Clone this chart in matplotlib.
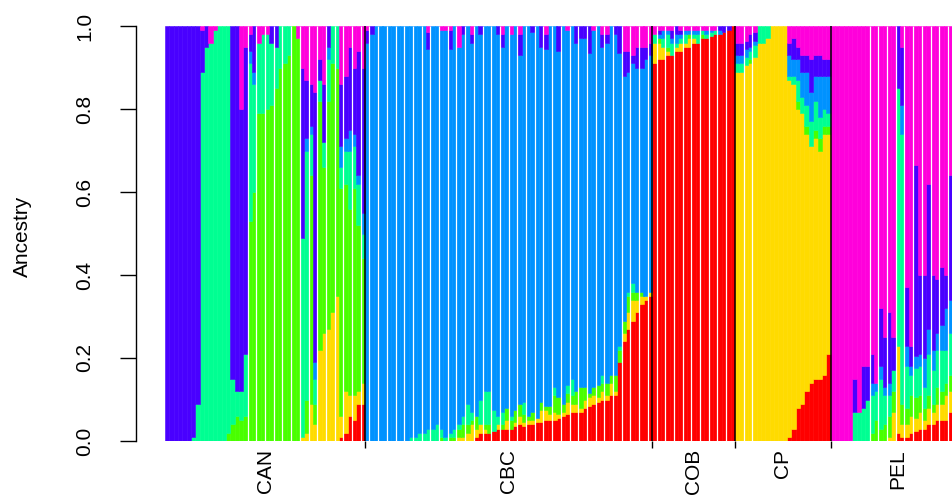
import numpy as np
import matplotlib.pyplot as plt
from matplotlib.transforms import blended_transform_factory

plt.rcParams["font.family"] = ["Liberation Sans", "DejaVu Sans"]

# cluster colours, bottom of the stack first (R rainbow(7))
colors = ["#FF0000", "#FFDB00", "#49FF00", "#00FF92", "#0092FF", "#4900FF", "#FF00DB"]
groups = ["CAN", "CBC", "COB", "CP", "PEL"]

# ancestry proportions per individual: [K1 .. K7]
can_q = [
    [0, 0, 0, 0, 0, 1.0, 0],
    [0, 0, 0, 0, 0, 1.0, 0],
    [0, 0, 0, 0, 0, 1.0, 0],
    [0, 0, 0, 0, 0, 1.0, 0],
    [0, 0, 0, 0, 0, 1.0, 0],
    [0, 0, 0, 0, 0, 1.0, 0],
    [0, 0, 0, 0.01, 0, 0.99, 0],
    [0, 0, 0, 0.09, 0, 0.91, 0],
    [0, 0, 0, 0.89, 0, 0.10, 0.01],
    [0, 0, 0, 0.95, 0, 0.05, 0],
    [0, 0, 0, 0.96, 0, 0, 0.04],
    [0, 0, 0, 0.99, 0, 0, 0.01],
    [0, 0, 0, 1.0, 0, 0, 0],
    [0, 0, 0, 1.0, 0, 0, 0],
    [0, 0, 0.02, 0.98, 0, 0, 0],
    [0, 0, 0.04, 0.11, 0, 0.85, 0],
    [0, 0, 0.06, 0.06, 0, 0.88, 0],
    [0, 0, 0.05, 0.07, 0, 0.68, 0.20],
    [0, 0, 0.06, 0.15, 0, 0.74, 0.05],
    [0, 0, 0.53, 0.38, 0.03, 0.04, 0.02],
    [0, 0, 0.60, 0.26, 0.03, 0.11, 0],
    [0, 0, 0.79, 0.17, 0, 0, 0.04],
    [0, 0, 0.79, 0.19, 0, 0, 0.02],
    [0, 0, 0.80, 0.18, 0, 0, 0.02],
    [0, 0, 0.81, 0.15, 0, 0.04, 0],
    [0, 0, 0.85, 0.10, 0, 0.05, 0],
    [0, 0, 0.90, 0.10, 0, 0, 0],
    [0, 0, 0.91, 0.09, 0, 0, 0],
    [0, 0, 0.93, 0.07, 0, 0, 0],
    [0, 0, 1.0, 0, 0, 0, 0],
    [0, 0, 0.97, 0, 0, 0, 0.03],
    [0, 0.01, 0, 0.48, 0, 0.41, 0.10],
    [0, 0.02, 0.08, 0.60, 0.03, 0.14, 0.13],
    [0, 0.09, 0.55, 0.10, 0.02, 0.10, 0.14],
    [0, 0.04, 0.05, 0.06, 0.04, 0.65, 0.16],
    [0, 0.22, 0.60, 0.05, 0, 0.05, 0.08],
    [0, 0.26, 0.40, 0.06, 0, 0.14, 0.14],
    [0, 0.27, 0.55, 0.10, 0.03, 0.05, 0],
    [0, 0.31, 0.60, 0.09, 0, 0, 0],
    [0, 0.35, 0.55, 0.10, 0, 0, 0],
    [0.01, 0.05, 0.55, 0.05, 0.05, 0.15, 0.14],
    [0.02, 0.10, 0.50, 0.08, 0.03, 0.15, 0.12],
    [0.06, 0.05, 0.45, 0.14, 0.05, 0.20, 0.05],
    [0.05, 0.06, 0.50, 0.10, 0.03, 0.16, 0.10],
    [0.09, 0.03, 0.40, 0.10, 0.02, 0.30, 0.06],
    [0.09, 0.05, 0.30, 0.06, 0.05, 0.35, 0.10],
]

cbc_q = [
    [0, 0, 0, 0, 0.96, 0.03, 0.01],
    [0, 0, 0, 0, 0.98, 0.02, 0],
    [0, 0, 0, 0, 1.0, 0, 0],
    [0, 0, 0, 0, 1.0, 0, 0],
    [0, 0, 0, 0, 1.0, 0, 0],
    [0, 0, 0, 0, 1.0, 0, 0],
    [0, 0, 0, 0, 1.0, 0, 0],
    [0, 0, 0, 0, 1.0, 0, 0],
    [0, 0, 0, 0, 1.0, 0, 0],
    [0, 0, 0, 0, 1.0, 0, 0],
    [0, 0, 0, 0.01, 0.99, 0, 0],
    [0, 0, 0, 0.01, 0.99, 0, 0],
    [0, 0, 0, 0.02, 0.98, 0, 0],
    [0, 0, 0, 0.02, 0.98, 0, 0],
    [0, 0, 0, 0.03, 0.915, 0.04, 0.015],
    [0, 0, 0, 0.03, 0.97, 0, 0],
    [0, 0, 0, 0.04, 0.96, 0, 0],
    [0, 0, 0.01, 0.02, 0.96, 0, 0.01],
    [0, 0, 0, 0.01, 0.98, 0, 0.01],
    [0, 0, 0.01, 0.01, 0.925, 0.045, 0.01],
    [0, 0, 0.01, 0.02, 0.97, 0, 0],
    [0, 0.01, 0.02, 0.01, 0.91, 0, 0.05],
    [0, 0.01, 0.03, 0.02, 0.92, 0.02, 0],
    [0, 0.02, 0.02, 0.05, 0.91, 0, 0],
    [0, 0.04, 0.01, 0.02, 0.89, 0.02, 0.02],
    [0.01, 0.02, 0.03, 0, 0.94, 0, 0],
    [0.02, 0.02, 0, 0.06, 0.88, 0.02, 0],
    [0.02, 0.01, 0.01, 0.08, 0.88, 0, 0],
    [0.02, 0, 0.02, 0.08, 0.88, 0, 0],
    [0.025, 0, 0, 0.05, 0.925, 0, 0],
    [0.03, 0.01, 0, 0.02, 0.92, 0.02, 0],
    [0.03, 0, 0.01, 0.03, 0.88, 0.03, 0.02],
    [0.03, 0.02, 0.03, 0, 0.92, 0, 0],
    [0.03, 0, 0.02, 0.01, 0.92, 0, 0.02],
    [0.035, 0.01, 0.03, 0, 0.925, 0, 0],
    [0.04, 0.02, 0.03, 0, 0.84, 0.05, 0.02],
    [0.035, 0.01, 0.02, 0.03, 0.905, 0, 0],
    [0.04, 0.01, 0.01, 0, 0.94, 0, 0],
    [0.04, 0.01, 0.02, 0, 0.915, 0.015, 0],
    [0.045, 0.01, 0, 0, 0.945, 0, 0],
    [0.045, 0.03, 0.02, 0, 0.855, 0.05, 0],
    [0.05, 0.025, 0.01, 0, 0.86, 0.035, 0.02],
    [0.05, 0.015, 0.02, 0, 0.915, 0, 0],
    [0.05, 0.02, 0.04, 0.02, 0.87, 0, 0],
    [0.055, 0.01, 0.04, 0, 0.835, 0.06, 0],
    [0.06, 0.01, 0.02, 0, 0.91, 0, 0],
    [0.065, 0.03, 0.02, 0.02, 0.855, 0, 0.01],
    [0.07, 0.02, 0.02, 0.04, 0.85, 0, 0],
    [0.07, 0.02, 0.03, 0, 0.84, 0.04, 0],
    [0.07, 0.01, 0.05, 0, 0.84, 0.03, 0],
    [0.08, 0.02, 0.03, 0, 0.84, 0.03, 0],
    [0.085, 0.02, 0.01, 0, 0.82, 0.065, 0],
    [0.09, 0.02, 0.02, 0, 0.86, 0, 0.01],
    [0.095, 0.01, 0.03, 0, 0.865, 0, 0],
    [0.10, 0.02, 0.02, 0.02, 0.79, 0.03, 0.02],
    [0.10, 0.01, 0.03, 0, 0.82, 0.02, 0.02],
    [0.11, 0.03, 0.02, 0, 0.84, 0, 0],
    [0.11, 0.01, 0.04, 0, 0.82, 0.02, 0],
    [0.19, 0, 0.03, 0.01, 0.705, 0.065, 0],
    [0.24, 0.02, 0.03, 0, 0.59, 0.06, 0.06],
    [0.27, 0.04, 0.04, 0.01, 0.53, 0.05, 0.06],
    [0.29, 0.05, 0.02, 0.02, 0.53, 0.02, 0.07],
    [0.31, 0.03, 0.02, 0, 0.54, 0.05, 0.05],
    [0.33, 0.02, 0.01, 0, 0.54, 0.05, 0.05],
    [0.34, 0.01, 0, 0, 0.57, 0.03, 0.05],
    [0.35, 0.01, 0, 0, 0.57, 0.03, 0.04],
]

cob_q = [
    [0.91, 0.05, 0, 0.02, 0, 0, 0.02],
    [0.92, 0.04, 0.01, 0, 0.01, 0.01, 0.01],
    [0.92, 0.03, 0, 0.02, 0.02, 0, 0.01],
    [0.93, 0.01, 0.01, 0.03, 0.01, 0, 0.01],
    [0.93, 0, 0, 0.03, 0.01, 0.02, 0.01],
    [0.94, 0.01, 0, 0.01, 0.02, 0.02, 0],
    [0.94, 0.02, 0, 0.01, 0.01, 0.01, 0.01],
    [0.95, 0.01, 0, 0.02, 0.01, 0, 0.01],
    [0.95, 0.02, 0.01, 0, 0.01, 0, 0.01],
    [0.96, 0.01, 0, 0.01, 0.01, 0, 0.01],
    [0.96, 0, 0, 0.02, 0.01, 0, 0.01],
    [0.97, 0, 0.01, 0.01, 0, 0, 0.01],
    [0.97, 0, 0, 0.01, 0.01, 0, 0.01],
    [0.975, 0, 0, 0.01, 0.005, 0, 0.01],
    [0.98, 0, 0, 0.01, 0, 0, 0.01],
    [0.98, 0, 0, 0, 0.01, 0.01, 0],
    [0.985, 0, 0, 0, 0, 0.015, 0],
    [0.99, 0, 0, 0, 0, 0.01, 0],
    [1.0, 0, 0, 0, 0, 0, 0],
]

cp_q = [
    [0, 0.89, 0, 0.02, 0.02, 0.03, 0.04],
    [0, 0.89, 0, 0.02, 0.02, 0.03, 0.04],
    [0, 0.905, 0, 0.02, 0.02, 0.02, 0.035],
    [0, 0.91, 0.01, 0.02, 0.01, 0.03, 0.02],
    [0, 0.925, 0, 0.03, 0.01, 0.02, 0.015],
    [0, 0.96, 0, 0.04, 0, 0, 0],
    [0, 0.96, 0, 0.04, 0, 0, 0],
    [0, 0.97, 0, 0.03, 0, 0, 0],
    [0, 1.0, 0, 0, 0, 0, 0],
    [0, 1.0, 0, 0, 0, 0, 0],
    [0, 1.0, 0, 0, 0, 0, 0],
    [0, 1.0, 0, 0, 0, 0, 0],
    [0.01, 0.86, 0, 0.01, 0.05, 0.03, 0.04],
    [0.03, 0.83, 0, 0.02, 0.04, 0.05, 0.03],
    [0.08, 0.72, 0.02, 0.05, 0.05, 0.03, 0.05],
    [0.09, 0.70, 0, 0.04, 0.06, 0.04, 0.07],
    [0.12, 0.62, 0.02, 0.05, 0.08, 0.04, 0.07],
    [0.14, 0.57, 0, 0.06, 0.07, 0.08, 0.08],
    [0.15, 0.58, 0.02, 0.07, 0.06, 0.05, 0.07],
    [0.15, 0.55, 0.03, 0.05, 0.10, 0.05, 0.07],
    [0.16, 0.58, 0.02, 0.04, 0.08, 0.04, 0.08],
    [0.21, 0.53, 0.02, 0.03, 0.09, 0.04, 0.08],
]

pel_q = [
    [0, 0, 0, 0, 0, 0, 1.0],
    [0, 0, 0, 0, 0, 0, 1.0],
    [0, 0, 0, 0, 0, 0, 1.0],
    [0, 0, 0, 0, 0, 0, 1.0],
    [0, 0, 0, 0, 0, 0, 1.0],
    [0, 0, 0, 0.07, 0, 0.08, 0.85],
    [0, 0, 0, 0.07, 0, 0, 0.93],
    [0, 0, 0, 0.08, 0, 0.10, 0.82],
    [0, 0, 0, 0.10, 0, 0.08, 0.82],
    [0, 0, 0.02, 0.09, 0.03, 0.07, 0.79],
    [0, 0, 0.05, 0.07, 0.02, 0, 0.86],
    [0, 0, 0.03, 0.12, 0.03, 0.14, 0.68],
    [0, 0, 0.04, 0.07, 0.02, 0.12, 0.75],
    [0, 0.01, 0.05, 0.05, 0.03, 0.17, 0.69],
    [0, 0.07, 0.05, 0.05, 0, 0.08, 0.75],
    [0.02, 0.21, 0, 0.62, 0, 0.15, 0],
    [0.01, 0.03, 0.05, 0.65, 0.07, 0.14, 0.05],
    [0.01, 0.03, 0.04, 0.10, 0.05, 0.14, 0.63],
    [0.02, 0.04, 0.05, 0.05, 0.02, 0.05, 0.77],
    [0.025, 0.03, 0.05, 0.07, 0.03, 0.46, 0.335],
    [0.03, 0.04, 0.04, 0.07, 0.03, 0.19, 0.60],
    [0.03, 0.02, 0.03, 0.05, 0.07, 0.20, 0.60],
    [0.04, 0.04, 0.03, 0.10, 0.06, 0.35, 0.38],
    [0.04, 0.03, 0.02, 0.08, 0.05, 0.18, 0.60],
    [0.05, 0.04, 0.04, 0.09, 0.04, 0.13, 0.61],
    [0.05, 0.04, 0.03, 0.10, 0.06, 0.14, 0.58],
    [0.05, 0.06, 0.03, 0.08, 0.10, 0.08, 0.60],
    [0.07, 0.05, 0.04, 0.10, 0.08, 0.30, 0.36],
    [0.05, 0.04, 0.03, 0.10, 0.08, 0.15, 0.55],
    [0.05, 0.04, 0.03, 0.10, 0.06, 0.12, 0.60],
    [0.05, 0.04, 0.04, 0.09, 0.06, 0.10, 0.62],
]

yticks = [0.0, 0.2, 0.4, 0.6, 0.8, 1.0]
ytick_labels = ["0.0", "0.2", "0.4", "0.6", "0.8", "1.0"]

all_q = [can_q, cbc_q, cob_q, cp_q, pel_q]
q = np.array([row for g in all_q for row in g])
sizes = np.array([len(g) for g in all_q])
ends = np.cumsum(sizes)
starts = ends - sizes

# thin white seams between some pairs of bars (device rendering)
seams = (list(range(19, 46, 2)) + list(range(47, 112, 2)) + list(range(113, 131, 2))
         + [133, 135] + list(range(162, 184, 2)))

fig = plt.figure(figsize=(9.53, 4.96), dpi=100)
ax = fig.add_axes([136 / 953, 55 / 496, 864 / 953, 415 / 496])

x = np.arange(len(q))
bottom = np.zeros(len(q))
for k, c in enumerate(colors):
    h = q[:, k]
    keep = h > 0
    ax.bar(x[keep], h[keep], bottom=bottom[keep], width=1, align="edge",
           color=c, edgecolor=c, linewidth=0.4)
    bottom += h

ax.vlines(seams, 0, 1, color="white", lw=0.9)
ax.vlines(ends[:-1], 0, 1, color="black", lw=1.1)

pad = 29 / 4.35
ax.set_xlim(-pad, -pad + 864 / 4.35)
ax.set_ylim(0, 1)

for s in ["top", "right", "bottom"]:
    ax.spines[s].set_visible(False)
ax.spines["left"].set_bounds(0, 1)
ax.spines["left"].set_linewidth(1.0)

ax.set_xticks(ends[:-1])
ax.set_xticklabels([])
ax.tick_params(axis="x", length=5, width=1.0, color="black")

ax.set_yticks(yticks)
ax.set_yticklabels(ytick_labels)
ax.tick_params(axis="y", length=11.5, width=1.0, pad=18.5, labelsize=15, labelrotation=90)
for lbl in ax.get_yticklabels():
    lbl.set_va("center")

trans = blended_transform_factory(ax.transData, ax.transAxes)
centers = (starts + ends) / 2
for name, cx in zip(groups, centers):
    ax.text(cx, -8 / 415, name, rotation=90, ha="center", va="top",
            fontsize=15, transform=trans, clip_on=False)

fig.text(22 / 953, 1 - 236 / 496, "Ancestry", rotation=90, ha="center", va="center", fontsize=15)

fig.savefig("out.png", dpi=100)
